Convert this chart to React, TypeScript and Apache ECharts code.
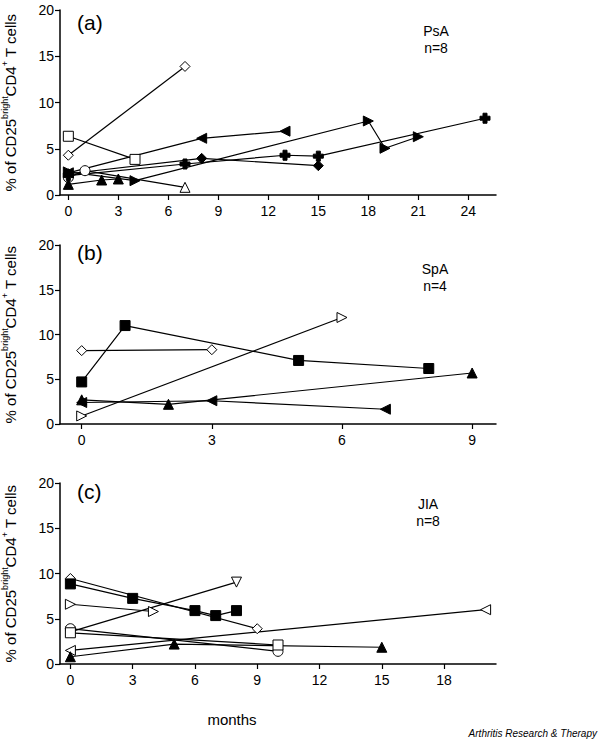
import React, { useEffect, useRef } from "react";
import * as echarts from "echarts";

// ---------- data ----------
// Panel (a) PsA n=8  : [month, %]
const psaDiamondOpen = [[0, 4.3], [7, 13.9]];
const psaSquareOpen = [[0, 6.35], [4, 3.85]];
const psaCircleOpen = [[0, 1.9], [1, 2.63], [7, 0.83]];
const psaDiamondFilled = [[0, 2.3], [8, 3.96], [15, 3.17]];
const psaCross = [[0, 2.1], [7, 3.35], [13, 4.3], [15, 4.2], [25, 8.3]];
const psaLeftFilled = [[0, 2.4], [8, 6.13], [13, 6.9]];
const psaRightFilled = [[0, 2.5], [4, 1.55], [18, 8.0], [19, 5.05], [21, 6.3]];
const psaTriFilled = [[0, 1.15], [2, 1.62], [3, 1.73]];

// Panel (b) SpA n=4
const spaDiamondOpen = [[0, 8.2], [3, 8.3]];
const spaSquareFilled = [[0, 4.7], [1, 11.0], [5, 7.1], [8, 6.2]];
const spaRightOpen = [[0, 0.9], [6, 11.9]];
const spaTriFilled = [[0, 2.7], [2, 2.2], [9, 5.7]];
const spaLeftFilled = [[0, 2.4], [3, 2.6], [7, 1.65]];

// Panel (c) JIA n=8
const jiaDiamondOpen = [[0, 9.45], [9, 3.9]];
const jiaSquareFilled = [[0, 8.85], [3, 7.25], [6, 5.9], [7, 5.35], [8, 5.9]];
const jiaRightOpen = [[0, 6.6], [4, 5.8]];
const jiaDownOpen = [[0, 3.55], [8, 9.05]];
const jiaCircleOpen = [[0, 3.9], [10, 1.4]];
const jiaSquareOpen = [[0, 3.45], [10, 2.1]];
const jiaLeftOpen = [[0, 1.5], [20, 6.0]];
const jiaTriFilled = [[0, 0.8], [5, 2.2], [15, 1.85]];

const xTicksA = [0, 3, 6, 9, 12, 15, 18, 21, 24];
const xTicksB = [0, 3, 6, 9];
const xTicksC = [0, 3, 6, 9, 12, 15, 18];
const panelLetters = ["(a)", "(b)", "(c)"];
const panelGroups = ["PsA", "SpA", "JIA"];
const panelNs = ["n=8", "n=4", "n=8"];

const FONT = '"Liberation Sans", Arial, Helvetica, sans-serif';

const SYM: Record<string, string> = {
  circle: "circle",
  rect: "rect",
  diamond: "diamond",
  up: "triangle",
  right: "path://M0,0L10,5L0,10Z",
  left: "path://M10,0L0,5L10,10Z",
  down: "path://M0,0L10,0L5,10Z",
  cross: "path://M3,0H7V3H10V7H7V10H3V7H0V3H3Z",
};

function ser(idx: number, data: number[][], sym: string, filled: boolean, size = 9, perPoint?: string[]) {
  return {
    type: "line",
    xAxisIndex: idx,
    yAxisIndex: idx,
    data: data.map((d, i) =>
      perPoint ? { value: d, symbol: SYM[perPoint[i]] } : { value: d }
    ),
    symbol: SYM[sym],
    symbolSize: size,
    symbolKeepAspect: true,
    showSymbol: true,
    lineStyle: { color: "#000", width: 1.2 },
    itemStyle: {
      color: filled ? "#000" : "#fff",
      borderColor: "#000",
      borderWidth: 1,
      opacity: 1,
    },
    emphasis: { disabled: true },
    z: 3,
  };
}

const grids = [
  { left: 60, top: 10, width: 436, height: 185, outerBoundsMode: "none", containLabel: false },
  { left: 60, top: 245, width: 436, height: 179, outerBoundsMode: "none", containLabel: false },
  { left: 60, top: 483, width: 436, height: 181, outerBoundsMode: "none", containLabel: false },
];

function xAxis(idx: number, max: number, ticks: number[]) {
  return {
    type: "value",
    gridIndex: idx,
    min: -0.5,
    max,
    axisLine: { show: true, onZero: false, lineStyle: { color: "#000", width: 1.5 } },
    axisTick: { show: true, length: 5, lineStyle: { color: "#000", width: 1.2 }, customValues: ticks },
    axisLabel: { color: "#000", fontSize: 14, fontFamily: FONT, margin: 9, customValues: ticks },
    splitLine: { show: false },
  };
}

function yAxis(idx: number) {
  return {
    type: "value",
    gridIndex: idx,
    min: 0,
    max: 20,
    interval: 5,
    axisLine: { show: true, onZero: false, lineStyle: { color: "#000", width: 1.5 } },
    axisTick: { show: true, length: 5, lineStyle: { color: "#000", width: 1.2 } },
    axisLabel: { color: "#000", fontSize: 14, fontFamily: FONT, margin: 6 },
    splitLine: { show: false },
    name: "{n|% of CD25}{s|bright}{n|CD4}{s|+}{n| T cells}",
    nameLocation: "middle",
    nameRotate: 90,
    nameGap: 42,
    nameTextStyle: {
      color: "#000",
      fontFamily: FONT,
      rich: {
        n: { fontSize: 15, fontFamily: FONT, color: "#000", lineHeight: 18, verticalAlign: "bottom" },
        s: { fontSize: 9, fontFamily: FONT, color: "#000", lineHeight: 18, verticalAlign: "top" },
      },
    },
  };
}

const letterTops = [12, 242, 481];
const groupTops = [24, 262, 497];
const groupXs = [436, 435, 428];

function text(x: number, y: number, t: string, size: number, align = "center", style: any = {}) {
  return {
    type: "text",
    x,
    y,
    style: { text: t, fill: "#000", font: `${style.fontStyle || "normal"} ${size}px ${FONT}`, textAlign: align, textVerticalAlign: "top" },
  };
}

export default function App() {
  const ref = useRef<HTMLDivElement>(null);
  useEffect(() => {
    if (!ref.current) return;
    const chart = echarts.init(ref.current, undefined, { renderer: "svg" });
    const graphics: any[] = [];
    for (let i = 0; i < 3; i++) {
      graphics.push(text(77, letterTops[i], panelLetters[i], 21, "left"));
      graphics.push(text(groupXs[i], groupTops[i], panelGroups[i], 14));
      graphics.push(text(groupXs[i], groupTops[i] + 17, panelNs[i], 14));
    }
    graphics.push(text(232, 712, "months", 15));
    graphics.push(text(597, 728, "Arthritis Research & Therapy", 10, "right", { fontStyle: "italic" }));
    chart.setOption({
      animation: false,
      backgroundColor: "#fff",
      grid: grids,
      xAxis: [xAxis(0, 25.66, xTicksA), xAxis(1, 9.55, xTicksB), xAxis(2, 20.5, xTicksC)],
      yAxis: [yAxis(0), yAxis(1), yAxis(2)],
      graphic: graphics,
      series: [
        ser(0, psaDiamondOpen, "diamond", false, 10),
        ser(0, psaSquareOpen, "rect", false, 10),
        ser(0, psaCircleOpen, "circle", false, 10, ["circle", "circle", "up"]),
        ser(0, psaDiamondFilled, "diamond", true, 10),
        ser(0, psaCross, "cross", true, 10),
        ser(0, psaLeftFilled, "left", true, 10),
        ser(0, psaRightFilled, "right", true, 10),
        ser(0, psaTriFilled, "up", true, 10),
        ser(1, spaDiamondOpen, "diamond", false, 10),
        ser(1, spaSquareFilled, "rect", true, 10),
        ser(1, spaRightOpen, "right", false, 10),
        ser(1, spaTriFilled, "up", true, 10),
        ser(1, spaLeftFilled, "left", true, 10),
        ser(2, jiaDiamondOpen, "diamond", false, 10),
        ser(2, jiaSquareFilled, "rect", true, 10),
        ser(2, jiaRightOpen, "right", false, 10),
        ser(2, jiaDownOpen, "down", false, 10),
        ser(2, jiaCircleOpen, "circle", false, 10),
        ser(2, jiaSquareOpen, "rect", false, 10),
        ser(2, jiaLeftOpen, "left", false, 10),
        ser(2, jiaTriFilled, "up", true, 10),
      ],
    });
    return () => chart.dispose();
  }, []);
  return (
    <div
      ref={ref}
      style={{ position: "fixed", left: 0, top: 0, width: 600, height: 740, background: "#fff" }}
    />
  );
}
